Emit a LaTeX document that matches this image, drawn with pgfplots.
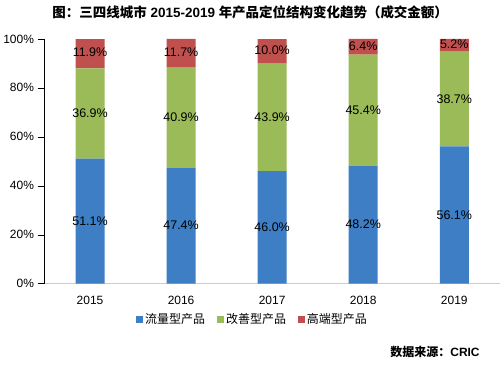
\documentclass[border=0pt]{standalone}
\usepackage{pgfplots}
\pgfplotsset{compat=1.18}
\usepackage{fontspec}
\setmainfont{Liberation Sans}
\newfontfamily\cjk{Noto Sans CJK SC}
\definecolor{cblue}{HTML}{3D7EC4}
\definecolor{cgreen}{HTML}{9BBB59}
\definecolor{cred}{HTML}{C0504D}
\definecolor{axisx}{HTML}{C8C8E8}
\tikzset{lab/.style={font=\fontsize{12.5}{14}\selectfont, inner sep=0pt}}
\begin{document}
\begin{tikzpicture}[x=1pt,y=1pt]
\fill[white] (0,0) rectangle (500,365);
\begin{axis}[at={(44pt,81pt)}, anchor=south west, scale only axis,
  width=456pt, height=245pt,
  ybar stacked, bar width=29pt,
  ymin=0, ymax=100, xmin=-0.5, xmax=4.5,
  axis lines*=left,
  x axis line style={draw=axisx},
  y axis line style={draw=black},
  xtick={0,1,2,3,4}, xticklabels={2015,2016,2017,2018,2019},
  xtick style={draw=none},
  ytick={0,20,40,60,80,100},
  yticklabel={\pgfmathprintnumber{\tick}\%},
  tick align=outside, major tick length=7pt,
  ytick style={black},
  /pgf/number format/assume math mode=true,
  tick label style={font=\fontsize{12}{14}\selectfont},
  xticklabel style={yshift=-2pt},
  legend style={at={(0.457,-0.147)}, anchor=center, draw=none, fill=none,
    legend columns=3, font=\fontsize{12}{14}\selectfont,
    /tikz/every even column/.append style={column sep=10pt}},
  legend image code/.code={\fill[#1] (0pt,-3.5pt) rectangle (7pt,3.5pt);},
]
\addplot[fill=cblue, draw=none] coordinates {(0,51.1) (1,47.4) (2,46.0) (3,48.2) (4,56.1)};
\addplot[fill=cgreen, draw=none] coordinates {(0,36.9) (1,40.9) (2,43.9) (3,45.4) (4,38.7)};
\addplot[fill=cred, draw=none] coordinates {(0,11.9) (1,11.7) (2,10.0) (3,6.4) (4,5.2)};
\legend{{\cjk 流量型产品},{\cjk 改善型产品},{\cjk 高端型产品}}
\coordinate (b0) at (axis cs:0,25.55);
\coordinate (b1) at (axis cs:1,23.7);
\coordinate (b2) at (axis cs:2,23.0);
\coordinate (b3) at (axis cs:3,24.1);
\coordinate (b4) at (axis cs:4,28.05);
\coordinate (g0) at (axis cs:0,69.55);
\coordinate (g1) at (axis cs:1,67.85);
\coordinate (g2) at (axis cs:2,67.95);
\coordinate (g3) at (axis cs:3,70.9);
\coordinate (g4) at (axis cs:4,75.45);
\coordinate (r0) at (axis cs:0,94.6);
\coordinate (r1) at (axis cs:1,94.6);
\coordinate (r2) at (axis cs:2,95.3);
\coordinate (r3) at (axis cs:3,97.0);
\coordinate (r4) at (axis cs:4,97.8);
\end{axis}
\node[lab] at (b0) {51.1\%};
\node[lab] at (b1) {47.4\%};
\node[lab] at (b2) {46.0\%};
\node[lab] at (b3) {48.2\%};
\node[lab] at (b4) {56.1\%};
\node[lab] at (g0) {36.9\%};
\node[lab] at (g1) {40.9\%};
\node[lab] at (g2) {43.9\%};
\node[lab] at (g3) {45.4\%};
\node[lab] at (g4) {38.7\%};
\node[lab] at (r0) {11.9\%};
\node[lab] at (r1) {11.7\%};
\node[lab] at (r2) {10.0\%};
\node[lab] at (r3) {6.4\%};
\node[lab] at (r4) {5.2\%};
\node[font=\fontsize{13.5}{15}\selectfont\bfseries, inner sep=0pt] at (250,353)
  {{\cjk\bfseries 图：三四线城市} 2015-2019 {\cjk\bfseries 年产品定位结构变化趋势（成交金额）}};
\node[anchor=east, font=\fontsize{12}{14}\selectfont, inner sep=0pt] at (480,12)
  {{\cjk\bfseries 数据来源：}\textbf{CRIC}};
\end{tikzpicture}
\end{document}
